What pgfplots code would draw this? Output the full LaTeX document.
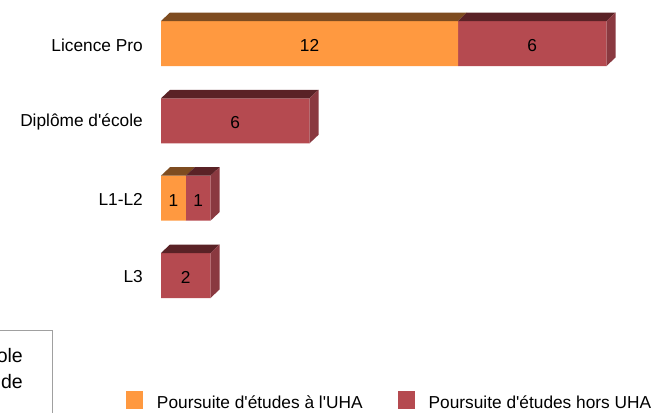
\documentclass[border=0pt]{standalone}
\usepackage{pgfplots}
\pgfplotsset{compat=1.18}
\usepackage{fontspec}
\setmainfont{Liberation Sans}
\definecolor{orangeF}{RGB}{255,153,64}
\definecolor{redF}{RGB}{181,74,80}
\definecolor{orangeT}{RGB}{126,76,32}
\definecolor{redT}{RGB}{90,34,38}
\definecolor{redS}{RGB}{138,57,64}
\definecolor{boxgray}{RGB}{160,160,160}
\newcommand{\fs}{\fontsize{17.3bp}{20bp}\selectfont}
\pgfplotsset{
  base/.style={scale only axis, width=495bp, height=309.33bp,
    xmin=0, xmax=20, ymin=-0.5, ymax=3.5,
    at={(161bp,-314.17bp)}, anchor=south west,
    axis line style={draw=none}, xtick=\empty, ytick=\empty,
    major tick length=0pt, clip=false},
}
\begin{document}
\begin{tikzpicture}[font=\fs]
\useasboundingbox (0bp,-413bp) rectangle (663bp,0bp);
% front faces (stacked bars)
\begin{axis}[base, xbar stacked, bar width=45bp,
  ytick={0,1,2,3},
  yticklabels={L3,L1-L2,Diplôme d\textquotesingle école,Licence Pro},
  yticklabel style={font=\fs, anchor=east, inner sep=0pt, xshift=-18bp, yshift=-1.5bp},
  legend style={at={(axis description cs:-0.07071,-0.2800)}, anchor=west,
    draw=none, fill=none, inner sep=0pt, outer sep=0pt, font=\fs,
    legend columns=2,
    nodes={inner sep=0pt},
    /tikz/every odd column/.append style={column sep=14bp},
    /tikz/every even column/.append style={column sep=35bp}},
  legend image code/.code={\fill[#1] (0bp,-6bp) rectangle (17bp,12bp);},
]
\addplot[fill=orangeF, draw=none] coordinates {(0,0) (1,1) (0,2) (12,3)};
\addlegendentry{Poursuite d\textquotesingle études à l\textquotesingle UHA}
\addplot[fill=redF, draw=none] coordinates {(2,0) (1,1) (6,2) (6,3)};
\addlegendentry{Poursuite d\textquotesingle études hors UHA}
\end{axis}
% 3D faces and value labels
\begin{axis}[base]
% Licence Pro
\addplot[fill=orangeT, draw=none, mark=none] coordinates {(0,3.2909) (12,3.2909) (12.3636,3.4008) (0.3636,3.4008)} -- cycle;
\addplot[fill=redT, draw=none, mark=none] coordinates {(12,3.2909) (18,3.2909) (18.3636,3.4008) (12.3636,3.4008)} -- cycle;
\addplot[fill=redS, draw=none, mark=none] coordinates {(18,2.7091) (18,3.2909) (18.3636,3.4008) (18.3636,2.8190)} -- cycle;
% Diplome
\addplot[fill=redT, draw=none, mark=none] coordinates {(0,2.2909) (6,2.2909) (6.3636,2.4008) (0.3636,2.4008)} -- cycle;
\addplot[fill=redS, draw=none, mark=none] coordinates {(6,1.7091) (6,2.2909) (6.3636,2.4008) (6.3636,1.8190)} -- cycle;
% L1-L2
\addplot[fill=orangeT, draw=none, mark=none] coordinates {(0,1.2909) (1,1.2909) (1.3636,1.4008) (0.3636,1.4008)} -- cycle;
\addplot[fill=redT, draw=none, mark=none] coordinates {(1,1.2909) (2,1.2909) (2.3636,1.4008) (1.3636,1.4008)} -- cycle;
\addplot[fill=redS, draw=none, mark=none] coordinates {(2,0.7091) (2,1.2909) (2.3636,1.4008) (2.3636,0.8190)} -- cycle;
% L3
\addplot[fill=redT, draw=none, mark=none] coordinates {(0,0.2909) (2,0.2909) (2.3636,0.4008) (0.3636,0.4008)} -- cycle;
\addplot[fill=redS, draw=none, mark=none] coordinates {(2,-0.2909) (2,0.2909) (2.3636,0.4008) (2.3636,-0.1810)} -- cycle;
% value labels
\addplot[draw=none, mark=none, nodes near coords, point meta=explicit symbolic,
  nodes near coords align=center,
  nodes near coords style={anchor=center, font=\fs, text=black, yshift=-2bp}]
  coordinates {(6,3)[12] (15,3)[6] (3,2)[6] (0.5,1)[1] (1.5,1)[1] (1,0)[2]};
\end{axis}
% clipped text box at the bottom left
\draw[boxgray, line width=0.8bp] (-5bp,-330bp) -- (52bp,-330bp) -- (52bp,-420bp);
\node[anchor=base east, inner sep=0pt, font=\fontsize{19.5bp}{24bp}\selectfont] at (23bp,-362bp) {ole};
\node[anchor=base east, inner sep=0pt, font=\fontsize{19.5bp}{24bp}\selectfont] at (23bp,-388bp) {de};
\end{tikzpicture}
\end{document}
